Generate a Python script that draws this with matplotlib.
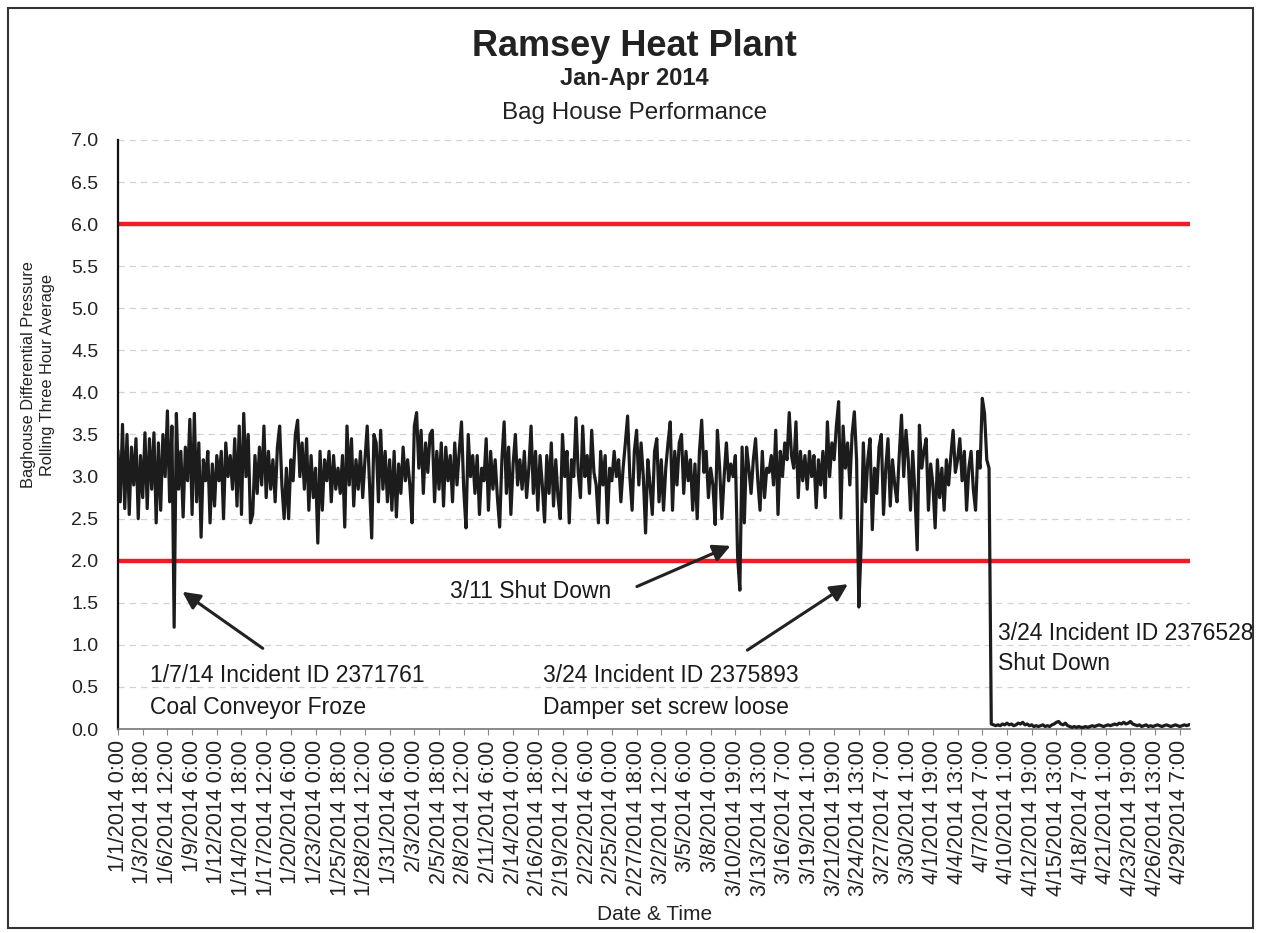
import matplotlib
matplotlib.use('Agg')
import matplotlib.pyplot as plt
from matplotlib.patches import Rectangle
import numpy as np

plt.rcParams['font.family'] = ['Liberation Sans', 'DejaVu Sans']

# Rolling three hour average of baghouse dP, one reading every 6 hours
step_hours = 6
dp_online = [
    3.30, 2.70, 3.62, 2.62, 3.50, 2.55, 3.35, 2.90, 3.45, 2.50, 3.25, 2.75, 3.52, 2.62, 3.45, 2.85, 3.52, 2.45, 3.40, 2.60,
    3.50, 3.00, 3.78, 2.70, 3.60, 1.21, 3.75, 2.85, 3.30, 2.52, 3.35, 2.95, 3.68, 2.55, 3.75, 2.70, 3.40, 2.28, 3.20, 2.95,
    3.30, 2.45, 3.15, 2.65, 3.25, 2.95, 3.30, 2.50, 3.40, 3.00, 3.25, 2.85, 3.45, 2.65, 3.60, 2.55, 3.75, 3.00, 3.50, 2.45,
    2.55, 3.25, 2.80, 3.35, 2.90, 3.60, 2.75, 3.30, 2.85, 3.20, 2.70, 3.35, 3.60, 2.90, 2.50, 3.10, 2.50, 3.20, 2.95, 3.50,
    3.67, 3.00, 3.40, 2.85, 3.45, 2.60, 3.25, 2.75, 3.10, 2.21, 3.30, 2.60, 3.20, 2.95, 3.30, 2.70, 3.25, 2.85, 3.10, 2.80,
    3.25, 2.40, 3.60, 2.90, 3.45, 2.65, 3.20, 2.85, 3.30, 2.75, 3.20, 3.60, 2.95, 2.27, 3.50, 3.40, 2.70, 3.55, 2.85, 3.30,
    2.70, 3.20, 2.60, 3.30, 2.52, 3.15, 2.80, 3.35, 2.95, 3.20, 2.90, 2.45, 3.60, 3.76, 3.10, 3.55, 2.80, 3.40, 3.05, 3.50,
    3.55, 2.70, 3.30, 2.85, 3.40, 2.65, 3.35, 2.95, 3.25, 2.70, 3.40, 2.90, 3.30, 3.65, 2.85, 2.39, 3.50, 3.00, 3.25, 2.80,
    3.25, 2.55, 3.10, 2.95, 3.45, 2.60, 3.30, 2.85, 3.20, 2.75, 2.40, 3.20, 3.65, 2.80, 3.35, 2.55, 3.15, 3.50, 2.90, 3.20,
    2.85, 3.30, 2.75, 3.10, 3.60, 2.80, 3.30, 2.60, 3.25, 2.90, 2.46, 3.25, 2.80, 3.40, 2.65, 3.20, 2.75, 2.50, 3.50, 3.00,
    3.30, 2.45, 3.20, 3.00, 3.70, 3.05, 2.75, 3.60, 3.00, 3.25, 2.80, 3.55, 3.05, 2.90, 2.45, 3.30, 2.90, 3.25, 2.45, 3.10,
    2.95, 3.30, 3.00, 3.20, 2.70, 3.10, 3.40, 3.72, 3.00, 2.60, 3.30, 3.55, 2.90, 3.40, 3.00, 2.33, 3.20, 2.90, 2.55, 3.30,
    3.45, 2.70, 3.20, 2.60, 3.10, 3.40, 3.65, 2.60, 3.30, 2.90, 3.40, 3.50, 2.80, 3.30, 2.95, 3.20, 2.60, 3.15, 2.50, 3.30,
    3.67, 3.05, 3.30, 2.75, 3.10, 2.90, 2.43, 3.55, 3.10, 2.50, 3.00, 3.40, 2.95, 3.15, 3.00, 3.25, 2.05, 1.65, 3.35, 2.45,
    3.35, 3.10, 2.80, 3.20, 3.45, 2.95, 2.60, 3.30, 2.75, 3.10, 3.05, 3.25, 2.90, 3.55, 2.55, 3.30, 3.00, 3.40, 3.20, 3.76,
    3.25, 3.10, 3.65, 2.75, 3.30, 2.95, 3.25, 2.85, 3.30, 3.00, 3.25, 2.63, 3.20, 2.90, 3.30, 2.75, 3.65, 3.00, 3.40, 3.20,
    3.60, 3.89, 2.51, 3.60, 3.10, 3.40, 2.90, 3.50, 3.77, 3.20, 1.45, 2.16, 3.40, 2.70, 3.20, 3.45, 2.37, 3.10, 2.80, 3.35,
    3.50, 2.55, 3.10, 3.45, 2.65, 3.20, 2.90, 2.70, 3.25, 3.73, 3.00, 3.55, 3.20, 2.60, 3.30, 2.80, 2.13, 3.61, 3.10, 3.30,
    3.45, 2.60, 3.15, 2.90, 2.39, 3.20, 2.75, 3.10, 2.60, 3.20, 2.90, 3.25, 3.55, 3.05, 3.20, 3.45, 2.95, 3.30, 2.60, 3.10,
    3.30, 2.85, 2.60, 3.30, 3.10, 3.93, 3.75, 3.20, 3.10,
]
dp_offline = [
    0.06, 0.05, 0.04, 0.05, 0.04, 0.06, 0.05, 0.07, 0.05, 0.06,
    0.04, 0.05, 0.07, 0.06, 0.08, 0.05, 0.06, 0.04, 0.05, 0.03,
    0.04, 0.03, 0.04, 0.05, 0.03, 0.04, 0.03, 0.05, 0.06, 0.08,
    0.09, 0.06, 0.05, 0.07, 0.04, 0.03, 0.02, 0.03, 0.02, 0.03,
    0.02, 0.02, 0.03, 0.02, 0.03, 0.04, 0.03, 0.04, 0.05, 0.04,
    0.03, 0.04, 0.05, 0.04, 0.05, 0.06, 0.05, 0.07, 0.06, 0.08,
    0.06, 0.07, 0.09, 0.06, 0.05, 0.04, 0.05, 0.03, 0.04, 0.05,
    0.03, 0.04, 0.03, 0.04, 0.05, 0.04, 0.03, 0.04, 0.05, 0.04,
    0.03, 0.04, 0.05, 0.04, 0.03, 0.04, 0.05, 0.04, 0.05,
]
pressure = np.array(dp_online + dp_offline)
hours = np.arange(len(pressure)) * step_hours

limit_low = 2.0
limit_high = 6.0

# category labels every 66 hourly readings
label_every = 66
tick_labels = [
    '1/1/2014 0:00', '1/3/2014 18:00', '1/6/2014 12:00', '1/9/2014 6:00', '1/12/2014 0:00',
    '1/14/2014 18:00', '1/17/2014 12:00', '1/20/2014 6:00', '1/23/2014 0:00', '1/25/2014 18:00',
    '1/28/2014 12:00', '1/31/2014 6:00', '2/3/2014 0:00', '2/5/2014 18:00', '2/8/2014 12:00',
    '2/11/2014 6:00', '2/14/2014 0:00', '2/16/2014 18:00', '2/19/2014 12:00', '2/22/2014 6:00',
    '2/25/2014 0:00', '2/27/2014 18:00', '3/2/2014 12:00', '3/5/2014 6:00', '3/8/2014 0:00',
    '3/10/2014 19:00', '3/13/2014 13:00', '3/16/2014 7:00', '3/19/2014 1:00', '3/21/2014 19:00',
    '3/24/2014 13:00', '3/27/2014 7:00', '3/30/2014 1:00', '4/1/2014 19:00', '4/4/2014 13:00',
    '4/7/2014 7:00', '4/10/2014 1:00', '4/12/2014 19:00', '4/15/2014 13:00', '4/18/2014 7:00',
    '4/21/2014 1:00', '4/23/2014 19:00', '4/26/2014 13:00', '4/29/2014 7:00',
]

fig = plt.figure(figsize=(12.69, 9.33), dpi=100)
ax = fig.add_axes([0.093, 0.2186, 0.845, 0.6314])

ax.set_ylim(0, 7)
ax.set_xlim(0, 2866)
ax.set_yticks(np.arange(0, 7.01, 0.5))
ax.set_yticklabels(['%.1f' % v for v in np.arange(0, 7.01, 0.5)], fontsize=14)
ax.set_xticks(np.arange(len(tick_labels)) * label_every)
ax.set_xticklabels(tick_labels, rotation=90, fontsize=15.5)
ax.tick_params(axis='y', length=0, pad=14, colors='#222222')
ax.tick_params(axis='x', length=4, pad=4, color='#888888', labelcolor='#222222')

ax.grid(axis='y', color='#d2d2d2', lw=0.9, ls=(0, (5, 4)))
ax.set_axisbelow(True)
for s in ['top', 'right']:
    ax.spines[s].set_visible(False)
ax.spines['left'].set_color('#111111')
ax.spines['left'].set_linewidth(1.6)
ax.spines['bottom'].set_color('#777777')
ax.spines['bottom'].set_linewidth(1.2)

ax.axhline(limit_high, color='#ee1c25', lw=3.2, zorder=2)
ax.axhline(limit_low, color='#ee1c25', lw=3.2, zorder=2)
ax.plot(hours, pressure, color='#1c1c1c', lw=2.3, zorder=3)

# annotations
note = dict(fontsize=16.5, va='center', color='#1a1a1a')
arrow = dict(arrowstyle='-|>', color='#222222', lw=2.2, mutation_scale=26)
ax.annotate('', xy=(166, 1.65), xytext=(393, 0.94), arrowprops=arrow)
ax.annotate('', xy=(1644, 2.19), xytext=(1380, 1.68), arrowprops=arrow)
ax.annotate('', xy=(1957, 1.74), xytext=(1676, 0.92), arrowprops=arrow)

ax.text(86, 0.64, '1/7/14 Incident ID 2371761', **note)
ax.text(86, 0.26, 'Coal Conveyor Froze', **note)
ax.text(888, 1.63, '3/11 Shut Down', **note)
ax.text(1136, 0.64, '3/24 Incident ID 2375893', **note)
ax.text(1136, 0.26, 'Damper set screw loose', **note)
ax.text(2353, 1.14, '3/24 Incident ID 2376528', clip_on=False, **note)
ax.text(2353, 0.78, 'Shut Down', clip_on=False, **note)

# titles
fig.text(0.5, 1 - 47 / 933, 'Ramsey Heat Plant', ha='center', va='center', fontsize=26, fontweight='bold', color='#222222')
fig.text(0.5, 1 - 78 / 933, 'Jan-Apr 2014', ha='center', va='center', fontsize=17, fontweight='bold', color='#222222')
fig.text(0.5, 1 - 113 / 933, 'Bag House Performance', ha='center', va='center', fontsize=17.5, color='#222222')
fig.text(38 / 1269, 1 - 375 / 933, 'Baghouse Differential Pressure\nRolling Three Hour Average',
         rotation=90, ha='center', va='center', fontsize=11.8, linespacing=1.3, color='#222222')
fig.text(655 / 1269, 1 - 915 / 933, 'Date & Time', ha='center', va='center', fontsize=15, color='#222222')

# chart border
fig.patches.append(Rectangle((8 / 1269, 5 / 933), 1245 / 1269, 920 / 933, transform=fig.transFigure,
                             fill=False, edgecolor='#333333', lw=1.5))

fig.savefig('out.png', dpi=100, facecolor='white')
